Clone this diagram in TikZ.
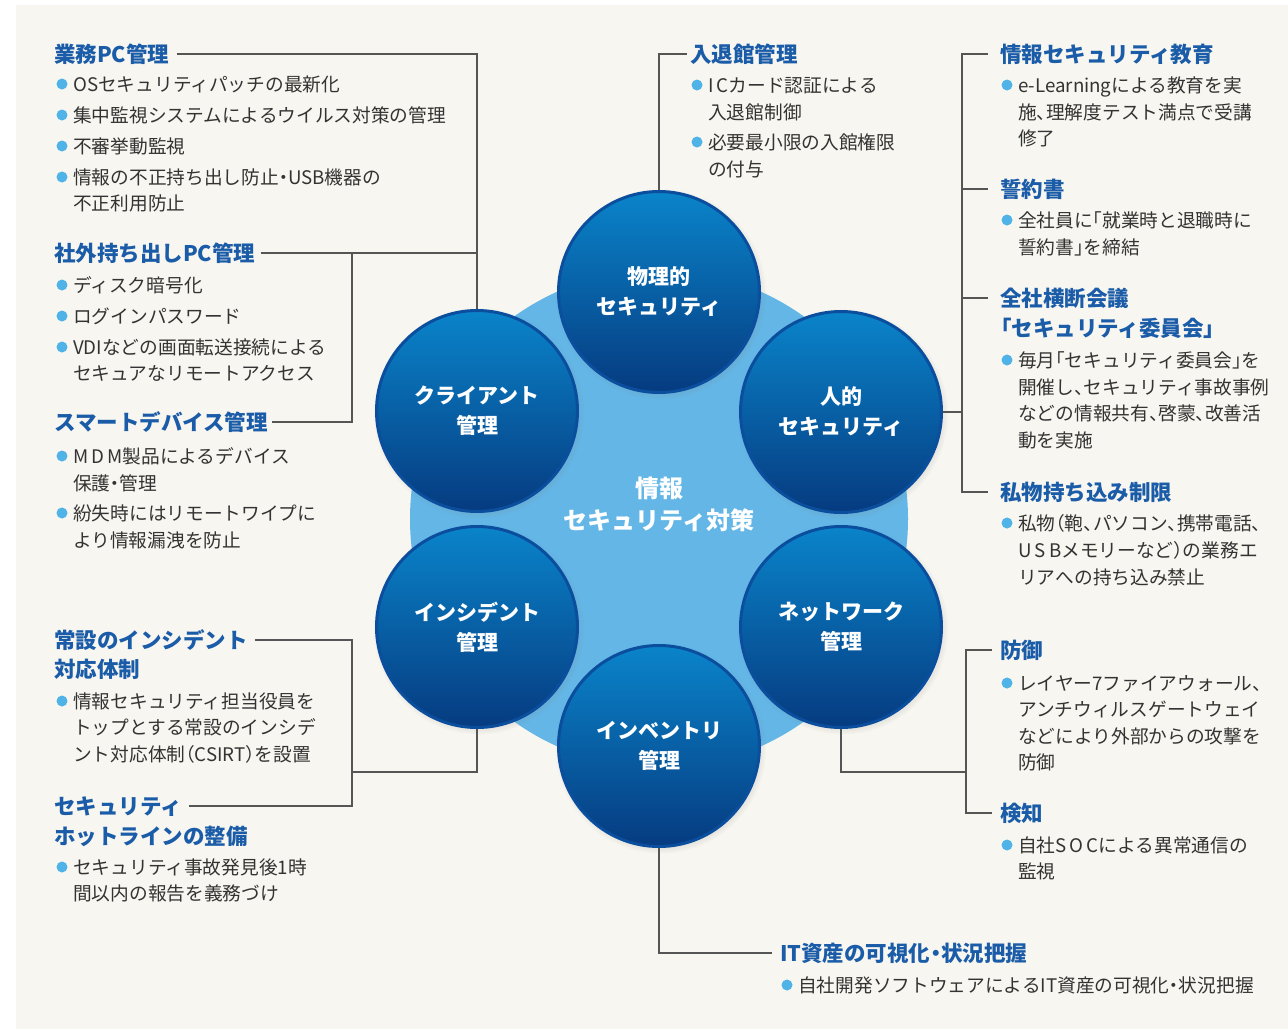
\documentclass[tikz,border=0pt]{standalone}
\usepackage{fontspec}
\setmainfont{Noto Sans CJK JP}
\newfontfamily\hwfont[RawFeature=+halt]{Noto Sans CJK JP}
\usetikzlibrary{shadows,calc}
\definecolor{panel}{HTML}{F7F6F0}
\definecolor{headblue}{HTML}{1B5CA8}
\definecolor{bodytext}{HTML}{333333}
\definecolor{bulblue}{HTML}{4FB3E8}
\definecolor{lightc}{HTML}{63B6E6}
\definecolor{dtop}{HTML}{0A84CA}
\definecolor{dbot}{HTML}{063B80}
\definecolor{dborder}{HTML}{0B4E9E}
\definecolor{linegray}{HTML}{555555}
\newcommand\hw[1]{{\hwfont #1}}
\newcommand\myitem[4]{%
  \node[body] (#1) at (#2,#3) {#4};
  \fill[bulblue] ([xshift=-11pt]#1.west) circle (5.5pt);
}
\tikzset{
  head/.style={anchor=west, inner sep=0pt, text=headblue,
    font=\bfseries\fontsize{21.5}{21.5}\selectfont, text height=18.9pt, text depth=2.6pt},
  body/.style={anchor=west, inner sep=0pt, text=bodytext,
    font=\fontsize{18.7}{18.7}\selectfont, text height=16.5pt, text depth=2.3pt},
  dark/.style={circle, minimum size=201pt, inner sep=0pt, draw=dborder, line width=3pt,
    top color=dtop, bottom color=dbot, text=white, align=center,
    font=\bfseries\fontsize{21}{30}\selectfont,
    circular drop shadow={shadow xshift=1.5pt, shadow yshift=-2pt, shadow scale=1.05, opacity=0.35}},
  conn/.style={draw=linegray, line width=1.3pt}
}
\begin{document}
\begin{tikzpicture}[x=1pt,y=-1pt]
\useasboundingbox (0,0) rectangle (1288,1029);
\fill[white] (0,0) rectangle (1288,1029);
\fill[panel] (16,5) rectangle (1288,1029);

% central circle
\fill[lightc] (659,519) circle (249pt);
\node[text=white, align=center, font=\bfseries\fontsize{24}{32}\selectfont] (ctr) at (659,504) {情報\\セキュリティ対策};

% six circles
\node[dark] (phys) at (659,292) {物理的\\セキュリティ};
\node[dark] (human) at (841,412) {人的\\セキュリティ};
\node[dark] (client) at (477,411) {クライアント\\管理};
\node[dark] (incident) at (477,627) {インシデント\\管理};
\node[dark] (network) at (841,627) {ネットワーク\\管理};
\node[dark] (inventory) at (659,746) {インベントリ\\管理};

% left column
\node[head] (hL1) at (54,54) {業務PC管理};
\myitem{l1a}{73}{84}{OSセキュリティパッチの最新化}
\myitem{l1b}{73}{115}{集中監視システムによるウイルス対策の管理}
\myitem{l1c}{73}{146}{不審挙動監視}
\myitem{l1d}{73}{177}{情報の不正持ち出し防止\hw{・}USB機器の}
\node[body] (l1e) at (73,203) {不正利用防止};

\node[head] (hL2) at (54,253) {社外持ち出しPC管理};
\myitem{l2a}{73}{285}{ディスク暗号化}
\myitem{l2b}{73}{316}{ログインパスワード}
\myitem{l2c}{73}{347}{VDIなどの画面転送接続による}
\node[body] (l2d) at (73,373) {セキュアなリモートアクセス};

\node[head] (hL3) at (54,422) {スマートデバイス管理};
\myitem{l3a}{73}{456}{M\,D\,M製品によるデバイス}
\node[body] (l3b) at (73,483) {保護\hw{・}管理};
\myitem{l3c}{73}{513}{紛失時にはリモートワイプに}
\node[body] (l3d) at (73,540) {より情報漏洩を防止};

\node[head] (hL4) at (54,640) {常設のインシデント};
\node[head] (hL4b) at (54,669) {対応体制};
\myitem{l4a}{73}{701}{情報セキュリティ担当役員を}
\node[body] (l4b) at (73,727) {トップとする常設のインシデ};
\node[body] (l4c) at (73,754) {ント対応体制\hw{（}CSIRT\hw{）}を設置};

\node[head] (hL5) at (54,806) {セキュリティ};
\node[head] (hL5b) at (54,836) {ホットラインの整備};
\myitem{l5a}{73}{867}{セキュリティ事故発見後1時}
\node[body] (l5b) at (73,893) {間以内の報告を義務づけ};

% top middle
\node[head] (hM) at (690,54) {入退館管理};
\myitem{m1a}{708}{85}{I\,Cカード認証による}
\node[body] (m1b) at (708,112) {入退館制御};
\myitem{m1c}{708}{142}{必要最小限の入館権限}
\node[body] (m1d) at (708,169) {の付与};

% right column
\node[head] (hR1) at (1000,54) {情報セキュリティ教育};
\myitem{r1a}{1018}{85}{e-Learningによる教育を実}
\node[body] (r1b) at (1018,112) {施\hw{、}理解度テスト満点で受講};
\node[body] (r1c) at (1018,138) {修了};
\node[head] (hR2) at (1000,189) {誓約書};
\myitem{r2a}{1018}{220}{全社員に\hw{「}就業時と退職時に}
\node[body] (r2b) at (1018,247) {誓約書\hw{」}を締結};
\node[head] (hR3) at (1000,298) {全社横断会議};
\node[head] (hR3b) at (990,328) {「セキュリティ委員会」};
\myitem{r3a}{1018}{360}{毎月\hw{「}セキュリティ委員会\hw{」}を}
\node[body] (r3b) at (1018,387) {開催し\hw{、}セキュリティ事故事例};
\node[body] (r3c) at (1018,413) {などの情報共有\hw{、}啓蒙\hw{、}改善活};
\node[body] (r3d) at (1018,440) {動を実施};
\node[head] (hR4) at (1000,492) {私物持ち込み制限};
\myitem{r4a}{1018}{523}{私物\hw{（}鞄\hw{、}パソコン\hw{、}携帯電話\hw{、}}
\node[body] (r4b) at (1018,550) {U\,S\,Bメモリーなど\hw{）}の業務エ};
\node[body] (r4c) at (1018,577) {リアへの持ち込み禁止};

\node[head] (hD1) at (1000,650) {防御};
\myitem{d1a}{1018}{683}{レイヤー7ファイアウォール\hw{、}}
\node[body] (d1b) at (1018,709) {アンチウィルスゲートウェイ};
\node[body] (d1c) at (1018,736) {などにより外部からの攻撃を};
\node[body] (d1d) at (1018,762) {防御};
\node[head] (hD2) at (1000,813) {検知};
\myitem{d2a}{1018}{845}{自社S\,O\,Cによる異常通信の}
\node[body] (d2b) at (1018,871) {監視};

% bottom
\node[head] (hB) at (780,953) {IT資産の可視化\hw{・}状況把握};
\myitem{b1}{798}{985}{自社開発ソフトウェアによるIT資産の可視化\hw{・}状況把握}

% connectors
\draw[conn] ([xshift=7pt]hL1.east) -| (client.north);
\draw[conn] ([xshift=5pt]hL2.east) -- (hL2.east -| client.north);
\coordinate (jL2) at (352,253);
\draw[conn] (jL2) |- ([xshift=4pt]hL3.east);
\coordinate (jInc) at (352,772);
\draw[conn] ([xshift=7pt]hL4.east) -| (jInc) |- ([xshift=7pt]hL5.east);
\draw[conn] (incident.south) |- (jInc);
\draw[conn] (phys.north) |- ([xshift=-3pt]hM.west);
\coordinate (jHum) at (962,412);
\draw[conn] ([xshift=-12pt]hR1.west) -| (jHum) |- ([xshift=-12pt]hR4.west);
\draw[conn] (human.east) -- (jHum);
\draw[conn] ([xshift=-12pt]hR2.west) -- (hR2.west -| jHum);
\draw[conn] ([xshift=-12pt]hR3.west) -- (hR3.west -| jHum);
\coordinate (jNet) at (966,772);
\draw[conn] ([xshift=-8pt]hD1.west) -| (jNet) |- ([xshift=-8pt]hD2.west);
\draw[conn] (network.south) |- (jNet);
\draw[conn] (inventory.south) |- ([xshift=-8pt]hB.west);
\end{tikzpicture}
\end{document}
